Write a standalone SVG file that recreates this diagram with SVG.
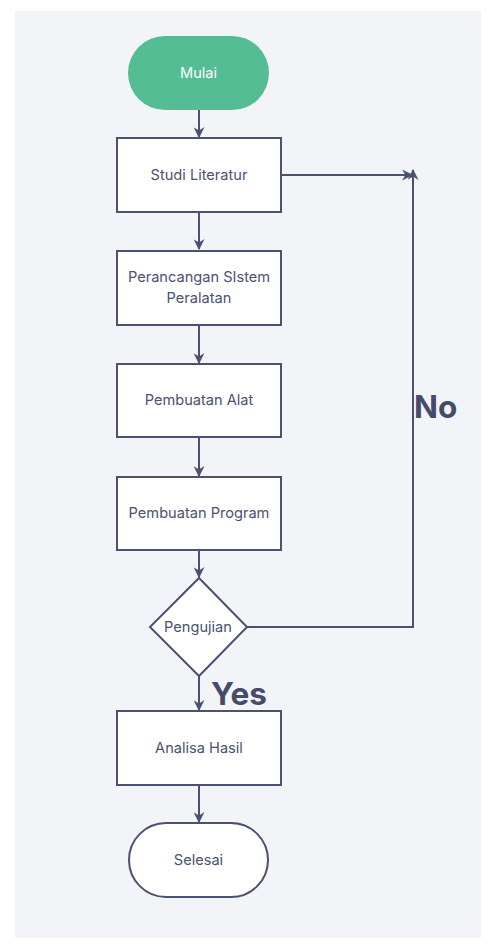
<svg xmlns="http://www.w3.org/2000/svg" width="496" height="949" viewBox="0 0 496 949">
<style>
.box{fill:#fff;stroke:#4b5170;stroke-width:2}
.t{font-family:Inter,"Liberation Sans",sans-serif;font-size:14.6px;fill:#4b5170;text-anchor:middle;dominant-baseline:central}
.e{fill:none;stroke:#4b5170;stroke-width:2}
.big{font-family:Inter,"Liberation Sans",sans-serif;font-size:31.5px;font-weight:700;fill:#454b6b}
</style>
<defs>
<marker id="ah" viewBox="0 0 10 10" refX="9" refY="5" markerWidth="11" markerHeight="11" orient="auto" markerUnits="userSpaceOnUse"><path d="M0,0 L10,5 L0,10 L3,5 Z" fill="#4b5170"/></marker>
</defs>
<rect x="0" y="0" width="496" height="949" fill="#fff"/>
<rect x="15" y="11" width="466" height="927" fill="#f3f4f8"/>
<g id="connectors">
<path class="e" d="M199 110 V137" marker-end="url(#ah)"/>
<path class="e" d="M199 212 V249" marker-end="url(#ah)"/>
<path class="e" d="M199 325 V363" marker-end="url(#ah)"/>
<path class="e" d="M199 437 V476" marker-end="url(#ah)"/>
<path class="e" d="M199 550 V577" marker-end="url(#ah)"/>
<path class="e" d="M199 676 V710" marker-end="url(#ah)"/>
<path class="e" d="M199 785 V822" marker-end="url(#ah)"/>
<path class="e" d="M281 175 H412" marker-end="url(#ah)"/>
<path class="e" d="M247 627 H413 V170" marker-end="url(#ah)"/>
</g>
<g id="mulai"><rect x="128" y="36" width="141" height="74" rx="37" fill="#54bd94"/><text class="t" x="198.5" y="73" style="fill:#fff">Mulai</text></g>
<g id="studi"><rect class="box" x="117" y="138" width="164" height="74"/><text class="t" x="199" y="175">Studi Literatur</text></g>
<g id="perancangan"><rect class="box" x="117" y="251" width="164" height="74"/><text class="t" x="199" y="277">Perancangan SIstem</text><text class="t" x="199" y="298">Peralatan</text></g>
<g id="alat"><rect class="box" x="117" y="364" width="164" height="73"/><text class="t" x="199" y="400">Pembuatan Alat</text></g>
<g id="program"><rect class="box" x="117" y="477" width="164" height="73"/><text class="t" x="199" y="513">Pembuatan Program</text></g>
<g id="pengujian"><path class="box" d="M199 578 L247 627 L199 676 L150 627 Z"/><text class="t" x="198" y="627">Pengujian</text></g>
<g id="analisa"><rect class="box" x="117" y="711" width="164" height="74"/><text class="t" x="199" y="748">Analisa Hasil</text></g>
<g id="selesai"><rect class="box" x="129" y="823" width="139" height="74" rx="37"/><text class="t" x="198.5" y="860">Selesai</text></g>
<text class="big" x="211" y="705">Yes</text>
<text class="big" x="414" y="418">No</text>
</svg>
